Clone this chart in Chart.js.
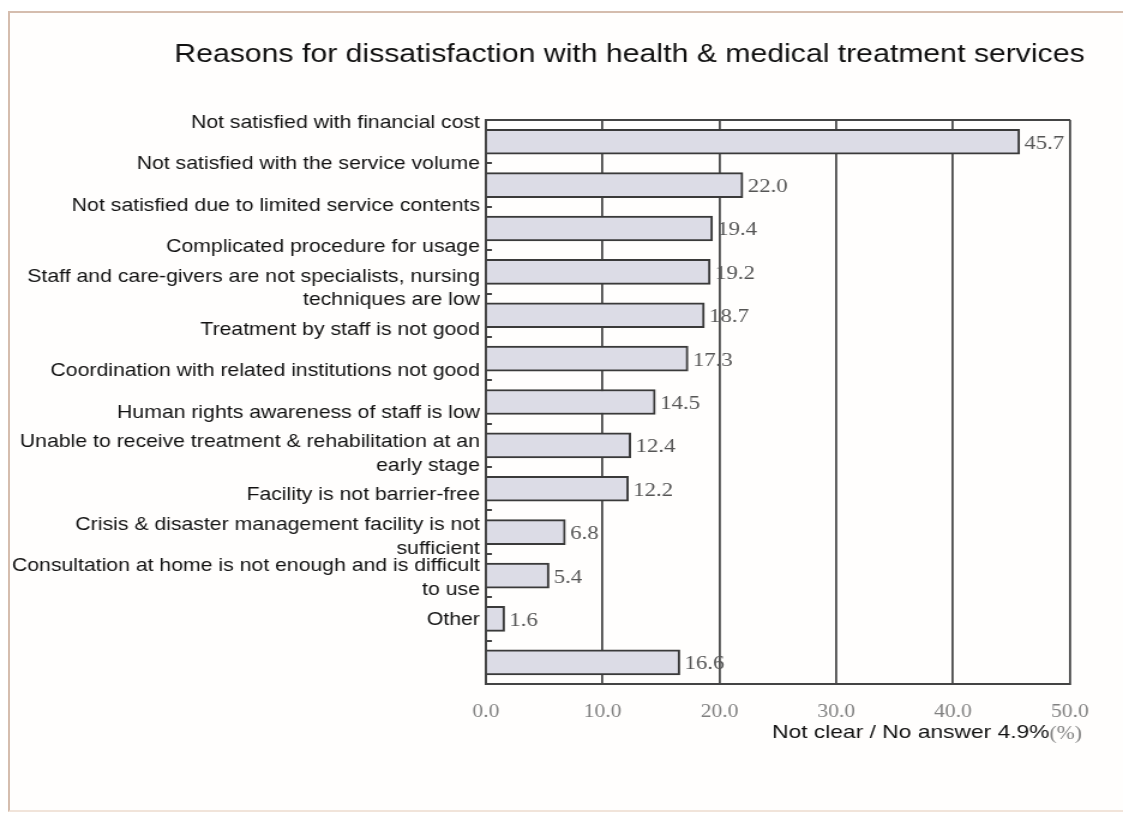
<!DOCTYPE html>
<html>
<head>
<meta charset="utf-8">
<title>Reasons for dissatisfaction with health &amp; medical treatment services</title>
<script src="https://cdn.jsdelivr.net/npm/chart.js@4.4.1/dist/chart.umd.min.js"></script>
<style>
  html, body { margin: 0; padding: 0; background: #ffffff; overflow: hidden; }
  #frame {
    position: absolute; left: 8px; top: 11px; width: 1140px; height: 797px;
    border: 2px solid #d5bdae; border-bottom-color: #f1e4da; background: #fffefd;
  }
  /* the chart is laid out on a narrower canvas and widened, so the lettering comes out broad */
  #wrap {
    position: absolute; left: 0; top: 0; width: 936px; height: 816px;
    transform: scaleX(1.19979); transform-origin: 0 0;
  }
</style>
</head>
<body>
<div id="frame"></div>
<div id="wrap"><canvas id="myChart" width="936" height="816"></canvas></div>
<script>
/* 데이터 */
const titleText = 'Reasons for dissatisfaction with health & medical treatment services';
const noAnswerText = 'Not clear / No answer 4.9%';
const unitText = '(%)';

const categories = [
	'Not satisfied with financial cost',
	'Not satisfied with the service volume',
	'Not satisfied due to limited service contents',
	'Complicated procedure for usage',
	'Staff and care-givers are not specialists, nursing\ntechniques are low',
	'Treatment by staff is not good',
	'Coordination with related institutions not good',
	'Human rights awareness of staff is low',
	'Unable to receive treatment & rehabilitation at an\nearly stage',
	'Facility is not barrier-free',
	'Crisis & disaster management facility is not\nsufficient',
	'Consultation at home is not enough and is difficult\nto use',
	'Other'
];
const values = [45.7, 22.0, 19.4, 19.2, 18.7, 17.3, 14.5, 12.4, 12.2, 6.8, 5.4, 1.6, 16.6];
const xTicks = [0, 10, 20, 30, 40, 50];

/* the text labels run a little tighter than the bars, so they sit on their own axis */
const labelAxisMin = -0.0725;
const labelAxisMax = 13.551;

const serif = '"Liberation Serif", "DejaVu Serif", serif';
const sans = '"Liberation Sans", Arial, sans-serif';
Chart.defaults.font.family = sans;

/* value printed after each bar */
const valueLabels = {
	id: 'valueLabels',
	afterDatasetsDraw(chart) {
		const ctx = chart.ctx;
		const meta = chart.getDatasetMeta(0);
		ctx.save();
		ctx.font = '19px ' + serif;
		ctx.fillStyle = '#555555';
		ctx.textAlign = 'left';
		ctx.textBaseline = 'middle';
		meta.data.forEach((bar, i) => {
			ctx.fillText(values[i].toFixed(1), bar.x + 4, bar.y + 2);
		});
		ctx.restore();
	}
};

/* "no answer" note and the unit, under the right end of the x axis */
const bottomNote = {
	id: 'bottomNote',
	afterDraw(chart) {
		const ctx = chart.ctx;
		const xs = chart.scales.x;
		const right = xs.right + 10;
		const y = xs.top + 49;
		ctx.save();
		ctx.textAlign = 'right';
		ctx.textBaseline = 'middle';
		ctx.font = '18px ' + serif;
		ctx.fillStyle = '#808080';
		ctx.fillText(unitText, right, y + 1);
		const unitW = ctx.measureText(unitText).width;
		ctx.font = '19px ' + sans;
		ctx.fillStyle = '#111111';
		ctx.fillText(noAnswerText, right - unitW, y);
		ctx.restore();
	}
};

const myChart = new Chart(document.getElementById('myChart').getContext('2d'), {
	type: 'bar',
	data: {
		labels: categories,
		datasets: [{
			data: values,
			xAxisID: 'x',
			yAxisID: 'y',
			backgroundColor: '#dcdce6',
			borderColor: '#3a3a3a',
			borderWidth: 2,
			barThickness: 25
		}]
	},
	options: {
		indexAxis: 'y',
		responsive: false,
		maintainAspectRatio: false,
		devicePixelRatio: 1,
		animation: false,
		layout: { padding: { left: 0, right: 32, top: 0, bottom: 75.4 } },
		plugins: {
			legend: { display: false },
			tooltip: { enabled: false },
			title: {
				display: true,
				text: titleText,
				align: 'end',
				color: '#111111',
				font: { size: 25.2, weight: 'normal' },
				padding: { top: 40, bottom: 49.8 }
			}
		},
		scales: {
			x: {
				type: 'linear',
				position: 'bottom',
				min: 0,
				max: 50,
				afterBuildTicks: (scale) => { scale.ticks = xTicks.map(v => ({ value: v })); },
				ticks: {
					callback: (v) => Number(v).toFixed(1),
					color: '#808080',
					font: { family: serif, size: 18 },
					padding: 17.5,
					maxRotation: 0
				},
				grid: { color: '#4a4a4a', lineWidth: 1.8, drawTicks: false },
				border: { display: true, color: '#444444', width: 2 }
			},
			xTop: {
				type: 'linear',
				position: 'top',
				display: true,
				min: 0,
				max: 50,
				ticks: { display: false },
				grid: { display: false, drawTicks: false },
				border: { display: true, color: '#444444', width: 2 }
			},
			y: {
				type: 'category',
				position: 'left',
				weight: 0,
				afterFit: (scale) => { scale.width = 0; },
				ticks: { display: false },
				grid: {
					offset: true,
					drawOnChartArea: false,
					drawTicks: true,
					tickLength: -5,
					color: '#444444',
					lineWidth: 2
				},
				border: { display: true, color: '#444444', width: 2 }
			},
			yLabels: {
				type: 'linear',
				position: 'left',
				display: true,
				weight: 1,
				reverse: true,
				offset: false,
				min: labelAxisMin,
				max: labelAxisMax,
				afterFit: (scale) => { scale.width = 405; },
				afterBuildTicks: (scale) => { scale.ticks = categories.map((c, i) => ({ value: i })); },
				ticks: {
					autoSkip: false,
					padding: 5,
					color: '#111111',
					font: { size: 17.7, lineHeight: 1.35 },
					callback: (v) => categories[v].split('\n')
				},
				grid: { display: false, drawTicks: false },
				border: { display: false }
			},
			yGutter: {
				type: 'linear',
				position: 'right',
				display: true,
				offset: false,
				min: 0,
				max: 1,
				afterFit: (scale) => { scale.width = 12.3; },
				ticks: { display: false },
				grid: { display: false, drawTicks: false },
				border: { display: false }
			}
		}
	},
	plugins: [valueLabels, bottomNote]
});
</script>
</body>
</html>
